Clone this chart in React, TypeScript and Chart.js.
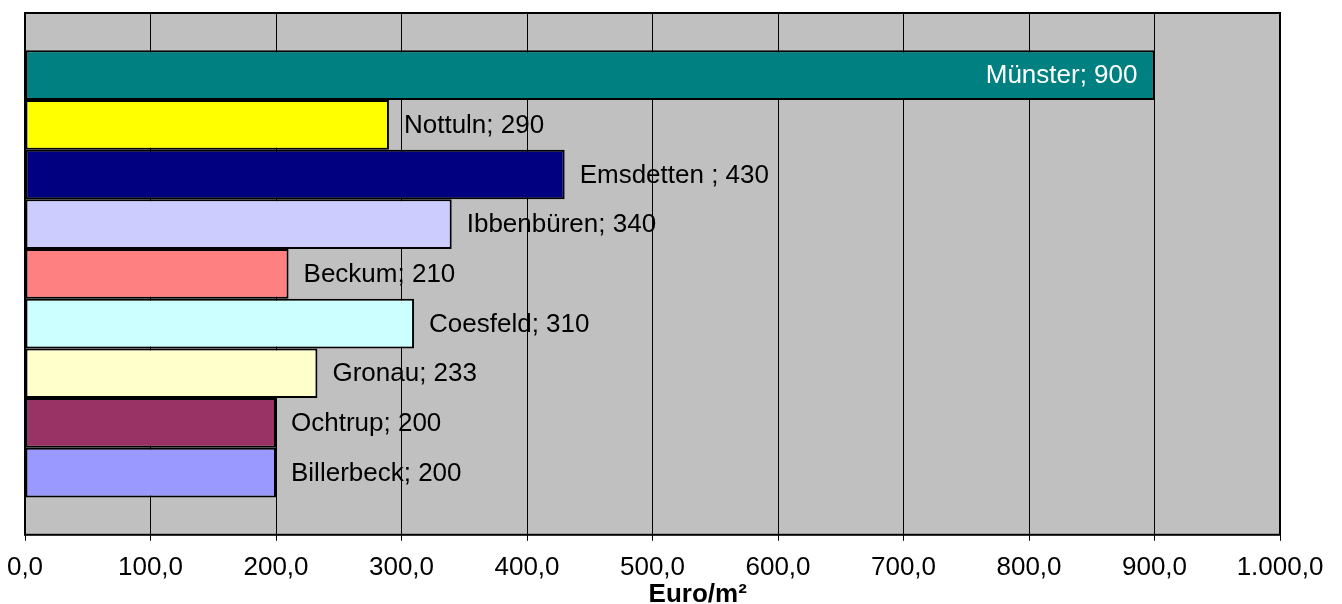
import React, { useEffect, useRef } from "react";
import { Chart, registerables } from "chart.js";

Chart.register(...registerables);

// Land prices per city (Euro/m²), top to bottom
const cities = [
  "Münster",
  "Nottuln",
  "Emsdetten ",
  "Ibbenbüren",
  "Beckum",
  "Coesfeld",
  "Gronau",
  "Ochtrup",
  "Billerbeck",
];
const prices = [900, 290, 430, 340, 210, 310, 233, 200, 200];
const barColors = [
  "#008080",
  "#FFFF00",
  "#000080",
  "#CCCCFF",
  "#FF8080",
  "#CCFFFF",
  "#FFFFCC",
  "#993366",
  "#9999FF",
];
const axisMin = 0;
const axisMax = 1000;
const axisStep = 100;
const axisTitle = "Euro/m²";

const FONT = "'Liberation Sans', Arial, sans-serif";

// German number format: thousands ".", decimals ","
function formatDe(v: number): string {
  const fixed = Math.abs(v).toFixed(1);
  const [intPart, dec] = fixed.split(".");
  const grouped = intPart.replace(/\B(?=(\d{3})+(?!\d))/g, ".");
  return (v < 0 ? "-" : "") + grouped + "," + dec;
}

function labelText(i: number): string {
  return `${cities[i]}; ${prices[i]}`;
}

const LABEL_GAP = 15;

const plotPlugin = {
  id: "plotDecor",
  beforeDraw(chart: any) {
    const { ctx, chartArea } = chart;
    const { left, top, right, bottom } = chartArea;
    ctx.save();
    ctx.fillStyle = "#ffffff";
    ctx.fillRect(0, 0, chart.width, chart.height);
    ctx.fillStyle = "#C0C0C0";
    ctx.fillRect(left, top, right - left, bottom - top);

    // value labels outside the bar end (beneath the gridlines)
    ctx.font = `26px ${FONT}`;
    ctx.textBaseline = "middle";
    ctx.textAlign = "left";
    ctx.fillStyle = "#000000";
    chart.data.datasets.forEach((_ds: any, i: number) => {
      const bar = chart.getDatasetMeta(i).data[0];
      if (!bar) return;
      const txt = labelText(i);
      const w = ctx.measureText(txt).width;
      if (bar.x + LABEL_GAP + w <= right) {
        ctx.fillText(txt, bar.x + LABEL_GAP, bar.y + 1);
      }
    });
    ctx.restore();
  },
  afterDatasetsDraw(chart: any) {
    const { ctx, chartArea } = chart;
    const { left, top, right, bottom } = chartArea;
    ctx.save();
    // labels that do not fit outside go inside the bar end, in white
    ctx.font = `26px ${FONT}`;
    ctx.textBaseline = "middle";
    ctx.textAlign = "right";
    ctx.fillStyle = "#ffffff";
    chart.data.datasets.forEach((_ds: any, i: number) => {
      const bar = chart.getDatasetMeta(i).data[0];
      if (!bar) return;
      const txt = labelText(i);
      const w = ctx.measureText(txt).width;
      if (bar.x + LABEL_GAP + w > right) {
        ctx.fillText(txt, bar.x - 17, bar.y + 1);
      }
    });

    // plot frame
    ctx.strokeStyle = "#000000";
    ctx.lineWidth = 2;
    ctx.strokeRect(left, top, right - left, bottom - top);

    // axis title
    ctx.font = `bold 26px ${FONT}`;
    ctx.textAlign = "center";
    ctx.textBaseline = "alphabetic";
    ctx.fillStyle = "#000000";
    ctx.fillText(axisTitle, left + (right - left) * 0.536, 602);
    ctx.restore();
  },
};

export default function App() {
  const canvasRef = useRef<HTMLCanvasElement | null>(null);

  useEffect(() => {
    const canvas = canvasRef.current;
    if (!canvas) return;
    const chart = new Chart(canvas, {
      type: "bar",
      data: {
        labels: [""],
        datasets: cities.map((c, i) => ({
          label: c,
          data: [prices[i]],
          backgroundColor: barColors[i],
          borderColor: "#000000",
          borderWidth: 2,
          borderSkipped: false,
          barPercentage: 1,
          categoryPercentage: 0.857,
        })),
      },
      options: {
        indexAxis: "y",
        responsive: false,
        animation: false,
        events: [],
        layout: {
          padding: { left: 25, right: 62, top: 13, bottom: 10 },
        },
        plugins: {
          legend: { display: false },
          tooltip: { enabled: false },
          title: { display: false },
        },
        scales: {
          y: {
            display: false,
          },
          x: {
            type: "linear",
            min: axisMin,
            max: axisMax,
            border: { display: false },
            afterFit: (scale: any) => {
              scale.paddingLeft = 0;
              scale.paddingRight = 0;
            },
            grid: {
              color: "#000000",
              lineWidth: 1,
              drawTicks: true,
              tickLength: 6,
              tickColor: "#000000",
            },
            ticks: {
              stepSize: axisStep,
              padding: 11,
              maxRotation: 0,
              autoSkip: false,
              color: "#000000",
              font: { family: FONT, size: 26 },
              callback: (v: any) => formatDe(Number(v)),
            },
          },
        },
      },
      plugins: [plotPlugin],
    });
    return () => chart.destroy();
  }, []);

  return (
    <div style={{ position: "fixed", left: 0, top: 0, width: 1342, height: 604, background: "#fff" }}>
      <canvas ref={canvasRef} width={1342} height={604} style={{ display: "block" }} />
    </div>
  );
}
